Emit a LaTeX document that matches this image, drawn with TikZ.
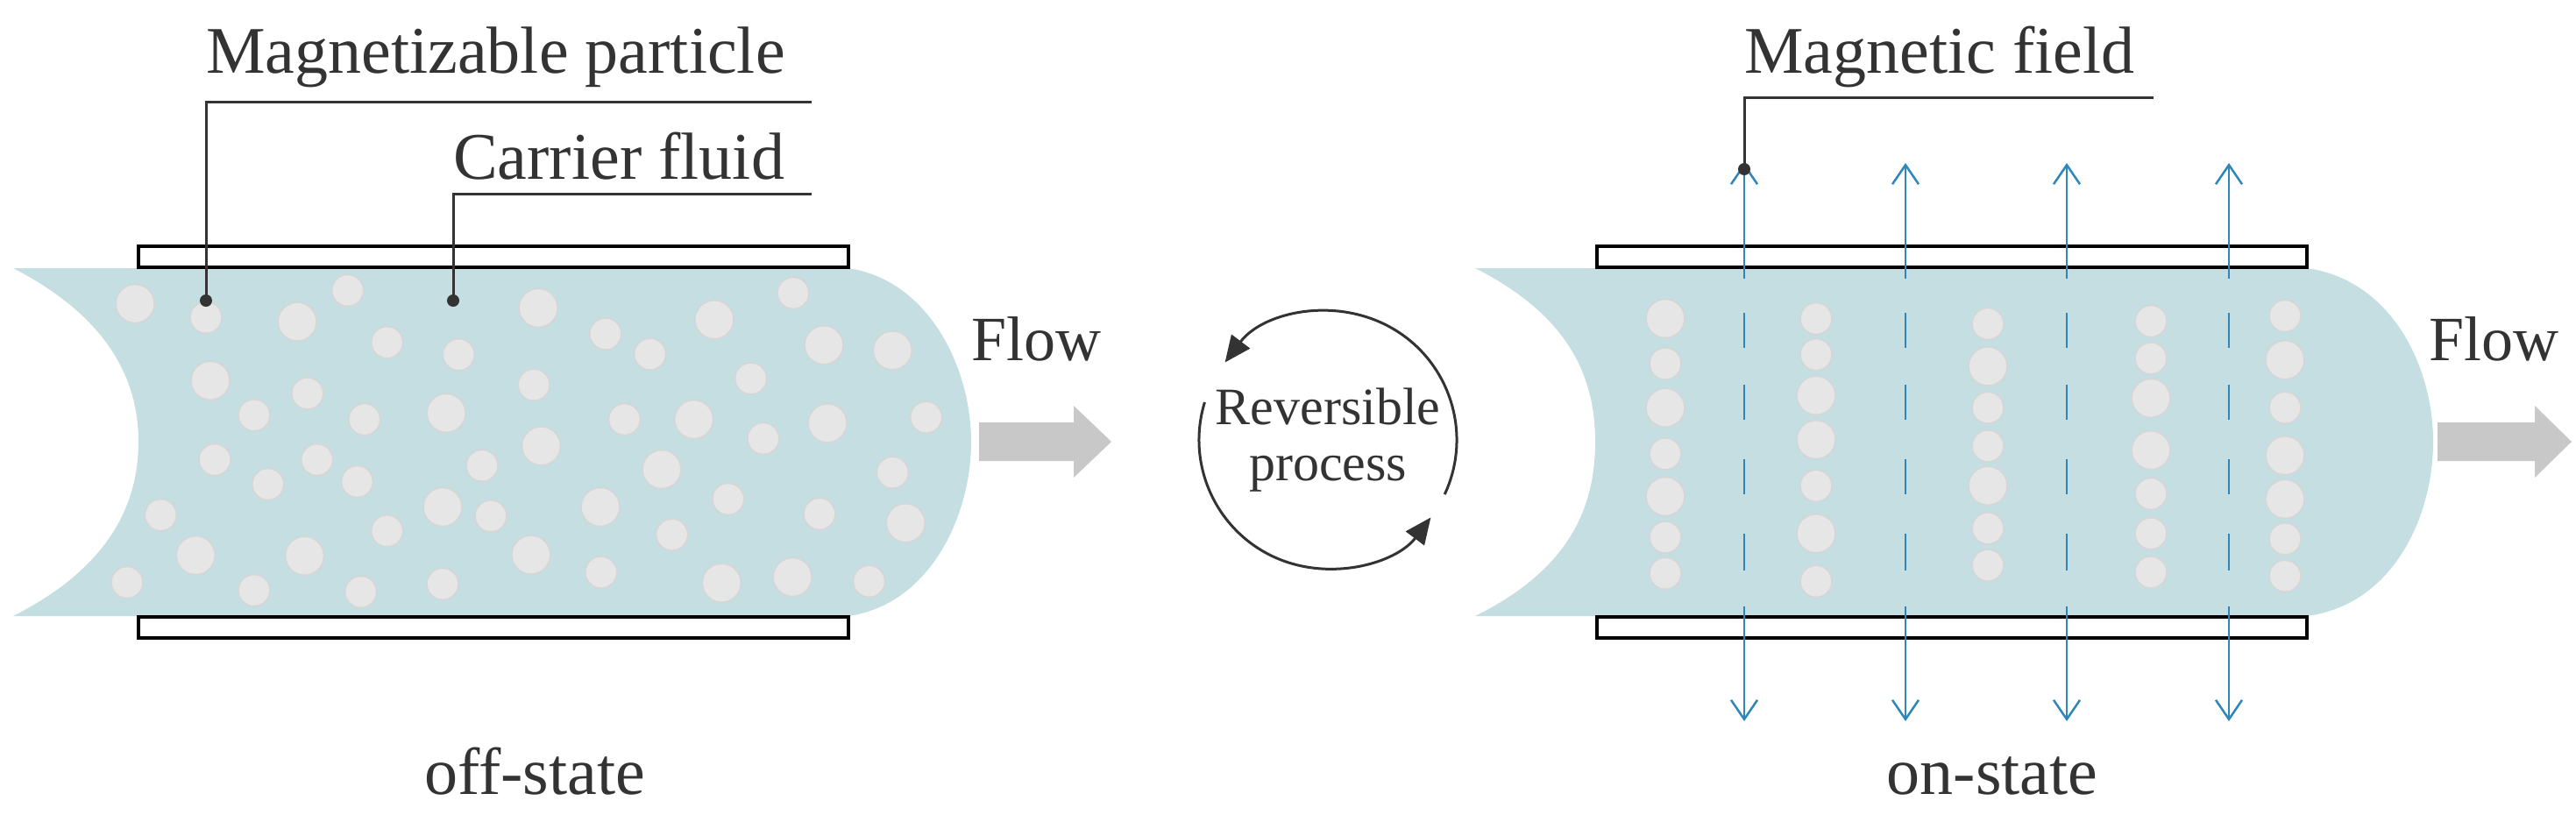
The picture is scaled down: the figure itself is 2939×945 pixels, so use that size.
\documentclass[tikz,border=0pt]{standalone}
\usepackage{fontspec}
\setmainfont{Liberation Serif}
\usetikzlibrary{arrows.meta}
\definecolor{fluid}{RGB}{197,222,225}
\definecolor{part}{RGB}{230,230,230}
\definecolor{partline}{RGB}{214,214,214}
\definecolor{flowc}{RGB}{200,200,200}
\definecolor{txt}{RGB}{51,51,51}
\definecolor{field}{RGB}{46,134,185}
\begin{document}
\begin{tikzpicture}[x=1pt,y=-1pt,
  plate/.style={draw=black,line width=4pt,fill=white},
  pt/.style={fill=part,draw=partline,line width=1.5pt},
  lbl/.style={text=txt,inner sep=0pt,font=\fontsize{76}{80}\selectfont},
  leader/.style={draw=txt,line width=3pt},
  fld/.style={draw=field,line width=2.5pt},
  fldtip/.style={-{Straight Barb[length=22pt,width=30pt,line width=2.5pt]}}]
\useasboundingbox (0,0) rectangle (2939,945);
% ===== left =====
\fill[fluid] (15,306) -- (968,306) .. controls (1060,320) and (1108,420) .. (1108,504) .. controls (1108,590) and (1060,690) .. (968,703) -- (15,703) .. controls (120,650) and (158,580) .. (158,504) .. controls (158,430) and (120,360) .. (15,306) -- cycle;
\foreach \x/\y in {282/598,476/547,530/645,628/668,829/629,890/667,1086/552,348/782,421/741,499/790,731/725,855/790,1028/713,1045/826,1268/786,294/866,367/912,434/866,489/907,660/877,997/940,1222/890,220/970,348/1112,494/1115,530/1000,672/972,606/1100,823/1078,920/1007,1122/968,1190/1095,174/1097}
  \path[pt] ({\x*0.8333},{\y*0.6058}) circle (18);
\foreach \x/\y in {185/572,407/606,737/580,978/602,1128/650,1222/660,288/717,611/778,950/790,1133/797,741/840,906/884,268/1046,417/1047,606/955,822/955,727/1045,988/1098,1085/1087,1240/985}
  \path[pt] ({\x*0.8333},{\y*0.6058}) circle (22);
\path[plate] (158,281) rectangle (968,305);
\path[plate] (158,704) rectangle (968,728);
\fill[flowc] (1117,482) -- (1225,482) -- (1225,463) -- (1268,504) -- (1225,545) -- (1225,526) -- (1117,526) -- cycle;
\node[lbl,anchor=south west,font=\fontsize{72}{76}\selectfont] (flowL) at (1108,412) {Flow};
\node[lbl,anchor=south west] (mp) at (235,100) {Magnetizable particle};
\node[lbl,anchor=south west] (cf) at (517,205) {Carrier fluid};
\coordinate (mpA) at (235,116); \coordinate (mpE) at (926,116); \coordinate (mpT) at (235,343);
\coordinate (cfA) at (517,221); \coordinate (cfE) at (926,221); \coordinate (cfT) at (517,343);
\draw[leader] (mpE) -- (mpA) -- (mpT);
\draw[leader] (cfE) -- (cfA) -- (cfT);
\fill[txt] (mpT) circle (7); \fill[txt] (cfT) circle (7);
\node[lbl] (off) at (610,880) {off-state};
% ===== reversible =====
\coordinate (rc) at (1515,502);
\draw[txt,line width=3pt,-{Triangle[length=30pt,width=26pt]}] ([shift={(25:147)}]rc) arc[start angle=25,end angle=-143,radius=147];
\draw[txt,line width=3pt,-{Triangle[length=30pt,width=26pt]}] ([shift={(-163:147)}]rc) arc[start angle=-163,end angle=-323,radius=147];
\node[lbl,align=center,font=\fontsize{60}{64}\selectfont] (rp) at (1515,502) {Reversible\\process};
% ===== right =====
\fill[fluid] (1683,306) -- (2632,306) .. controls (2730,320) and (2776,420) .. (2776,504) .. controls (2776,590) and (2730,690) .. (2632,703) -- (1683,703) .. controls (1790,650) and (1820,580) .. (1820,504) .. controls (1820,430) and (1790,360) .. (1683,306) -- cycle;
\foreach \cx/\ys/\yl in {1900/{685,855,1012,1080}/{600,768,935},
                         2072/{600,668,915,1095}/{745,828,1005},
                         2268/{610,768,840,995,1065}/{690,915},
                         2454/{605,675,930,1005,1078}/{750,848},
                         2607/{595,768,1015,1085}/{678,858,940}}{
  \foreach \y in \ys {\path[pt] (\cx,{\y*0.6058}) circle (18);}
  \foreach \y in \yl {\path[pt] (\cx,{\y*0.6058}) circle (22);}
}
\foreach \fx in {1990,2174,2358,2543}{
  \foreach \a/\b in {357/397,439/479,524/564,609/651} {\draw[fld] (\fx,\a) -- (\fx,\b);}
}
\path[plate] (1822,281) rectangle (2632,305);
\path[plate] (1822,704) rectangle (2632,728);
\foreach \fx [count=\i] in {1990,2174,2358,2543}{
  \coordinate (ft\i) at (\fx,186); \coordinate (fa\i) at (\fx,318);
  \coordinate (fb\i) at (\fx,692); \coordinate (fe\i) at (\fx,823);
  \draw[fld,fldtip] (fa\i) -- (ft\i);
  \draw[fld,fldtip] (fb\i) -- (fe\i);
}
\fill[flowc] (2781,482) -- (2892,482) -- (2892,463) -- (2934,504) -- (2892,545) -- (2892,526) -- (2781,526) -- cycle;
\node[lbl,anchor=south west,font=\fontsize{72}{76}\selectfont] (flowR) at (2771,412) {Flow};
\node[lbl,anchor=south west] (mf) at (1990,100) {Magnetic field};
\coordinate (mfA) at (1990,111); \coordinate (mfE) at (2457,111); \coordinate (mfT) at (1990,193);
\draw[leader] (mfE) -- (mfA) -- (mfT);
\fill[txt] (mfT) circle (7);
\node[lbl] (on) at (2273,885) {on-state};
\end{tikzpicture}
\end{document}
